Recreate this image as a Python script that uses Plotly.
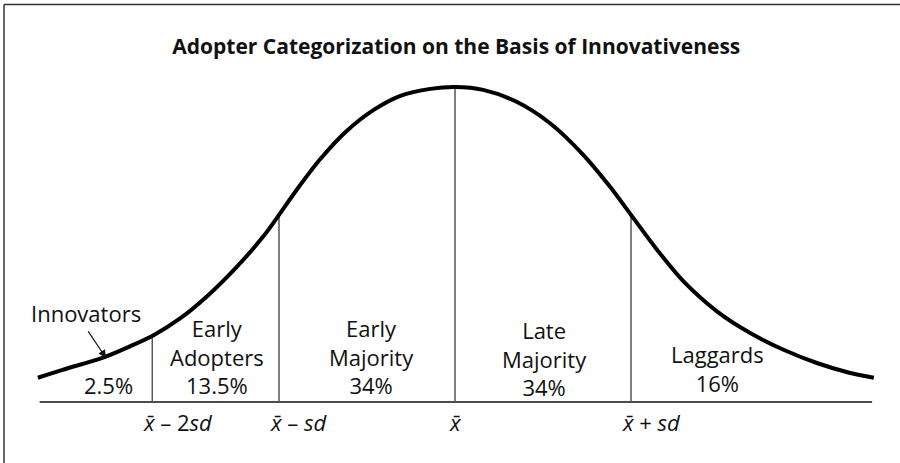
import plotly.graph_objects as go

# ── data (x in sd units from the mean, y = relative height) ──
curve_x = [-2.37, -2.23, -2.00, -1.85, -1.71, -1.56, -1.41, -1.24, -1.09, -1.00,
           -0.90, -0.77, -0.62, -0.46, -0.31, -0.14, 0.00, 0.16, 0.35, 0.54,
           0.73, 0.88, 1.00, 1.15, 1.30, 1.49, 1.68, 1.87, 2.06, 2.24, 2.38]
curve_y = [0.077, 0.102, 0.141, 0.176, 0.213, 0.266, 0.335, 0.429, 0.525, 0.594,
           0.673, 0.768, 0.858, 0.928, 0.972, 0.994, 1.000, 0.991, 0.953, 0.885,
           0.784, 0.684, 0.594, 0.482, 0.382, 0.287, 0.218, 0.165, 0.123, 0.093, 0.077]

baseline_x = [-2.36, 2.37]
baseline_y = [0, 0]

cut_x = [-1.72, -1.00, 0.00, 1.00]
cut_top = [0.203, 0.594, 1.000, 0.594]
cut_labels = ["<i>x̄</i> – 2<i>sd</i>", "<i>x̄</i> – <i>sd</i>", "<i>x̄</i>", "<i>x̄</i> + <i>sd</i>"]

categories = ["Innovators", "Early<br>Adopters", "Early<br>Majority", "Late<br>Majority", "Laggards"]
shares = [2.5, 13.5, 34, 34, 16]

TITLE = "Adopter Categorization on the Basis of Innovativeness"

# ── styling / placement ──
FONT = "Open Sans, sans-serif"
INK = "#111111"
RULE = "#555555"
PX_X = 176.0   # pixels per sd
PX_Y = 315.0   # pixels per unit height
X0, Y0 = 455.0, 402.0  # pixel position of (mean, baseline)
W, H = 900, 463
FS = 22

fig = go.Figure()

fig.add_trace(go.Scatter(x=baseline_x, y=baseline_y, mode="lines",
                         line=dict(color=INK, width=1.5), hoverinfo="skip"))

for cx, top in zip(cut_x, cut_top):
    fig.add_trace(go.Scatter(x=[cx, cx], y=[0, top], mode="lines",
                             line=dict(color=RULE, width=1.5), hoverinfo="skip"))

fig.add_trace(go.Scatter(x=curve_x, y=curve_y, mode="lines",
                         line=dict(color="#000000", width=4, shape="spline", smoothing=0.9),
                         hoverinfo="skip"))

# category labels (positions are layout only)
label_x = [-1.966, -1.352, -0.477, 0.506, 1.494]
label_y = [0.054, 0.143, 0.143, 0.137, 0.106]
for i, (cat, pct) in enumerate(zip(categories, shares)):
    text = f"{pct:g}%" if i == 0 else f"{cat}<br>{pct:g}%"
    fig.add_annotation(x=label_x[i], y=label_y[i], text=text, showarrow=False,
                       xanchor="center", yanchor="middle",
                       font=dict(family=FONT, size=FS, color=INK))

# Innovators callout with arrow
fig.add_annotation(x=-2.097, y=0.283, text=categories[0], showarrow=False,
                   xanchor="center", yanchor="middle",
                   font=dict(family=FONT, size=FS, color=INK))
fig.add_annotation(x=-1.983, y=0.140, ax=-2.09, ay=0.229, axref="x", ayref="y",
                   text="", showarrow=True, arrowhead=2, arrowsize=1.3,
                   arrowwidth=1.2, arrowcolor=INK)

# axis labels under the cut lines
for cx, lab in zip(cut_x, cut_labels):
    centred = lab == "<i>x̄</i>"
    fig.add_annotation(x=cx, y=-0.063, text=lab, showarrow=False,
                       xanchor="center" if centred else "left",
                       xshift=0 if centred else -11,
                       yanchor="middle",
                       font=dict(family=FONT, size=FS, color=INK))

# frame: left and top edges only (the reference crop cuts off right and bottom)
frame = dict(color="#333333", width=1.5)
fig.add_shape(type="line", xref="paper", yref="paper",
              x0=4 / W, x1=4 / W, y0=0, y1=1 - 4.5 / H, line=frame)
fig.add_shape(type="line", xref="paper", yref="paper",
              x0=4 / W, x1=1.02, y0=1 - 4.5 / H, y1=1 - 4.5 / H, line=frame)

fig.update_layout(
    width=W, height=H,
    margin=dict(l=0, r=0, t=0, b=0),
    paper_bgcolor="white", plot_bgcolor="white",
    showlegend=False,
    title=dict(text=f"<b>{TITLE}</b>", x=0.507, xanchor="center",
               y=1 - 47 / H, yanchor="middle",
               font=dict(family=FONT, size=21, color=INK)),
)
fig.update_xaxes(visible=False, range=[-X0 / PX_X, (W - X0) / PX_X], fixedrange=True)
fig.update_yaxes(visible=False, range=[-(H - Y0) / PX_Y, Y0 / PX_Y], fixedrange=True)

fig.write_html("out.html", config={"displayModeBar": False},
               post_script="document.body.style.margin='0';"
                           "document.body.style.overflow='hidden';"
                           "document.documentElement.style.overflow='hidden';")
